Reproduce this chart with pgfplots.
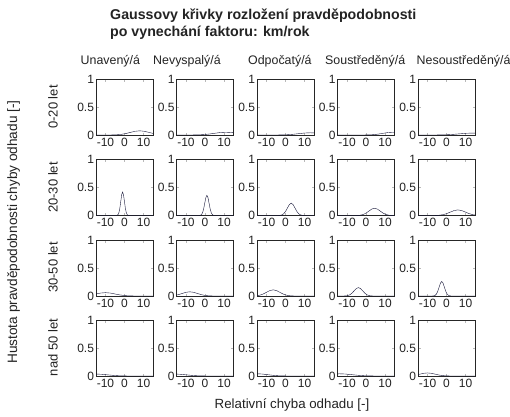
\documentclass[border=0pt]{standalone}
\usepackage{pgfplots}
\pgfplotsset{compat=1.18}
\usepackage{fontspec}
\setmainfont{Liberation Sans}
\definecolor{curvecol}{RGB}{20,20,55}
\definecolor{txt}{RGB}{35,35,35}
\pgfplotsset{
  cell/.style={
    width=57pt, height=56pt, scale only axis, anchor=north west,
    xmin=-15, xmax=15, ymin=0, ymax=1,
    xtick={-10,0,10}, ytick={0,0.5,1},
    tick align=inside, major tick length=2.5pt,
    tick style={gray!55, line width=0.5pt},
    axis line style={black!85, line width=0.8pt},
    /pgf/number format/assume math mode=true,
    tick label style={font=\fontsize{12}{12}\selectfont, text=txt},
    xticklabel style={yshift=0.5pt},
    yticklabel style={xshift=1.5pt},
    cycle list={{draw=curvecol, line width=1pt, mark=none}},
  }
}
\tikzset{coltitle/.style={anchor=base west, font=\fontsize{12.4}{12.4}\selectfont, text=txt, inner sep=0pt},
  rowtitle/.style={rotate=90, font=\fontsize{13}{13}\selectfont, text=txt, inner sep=0pt}}
\begin{document}
\begin{tikzpicture}
\useasboundingbox (0pt,0pt) rectangle (510pt,-416pt);
\fill[white] (0pt,0pt) rectangle (510pt,-416pt);
% titles
\node[anchor=base west, font=\bfseries\fontsize{14.2}{14.2}\selectfont, text=txt, inner sep=0pt] at (110pt,-19.5pt) {Gaussovy křivky rozložení pravděpodobnosti};
\node[anchor=base west, font=\bfseries\fontsize{14.2}{14.2}\selectfont, text=txt, inner sep=0pt] at (110pt,-36.5pt) {po vynechání faktoru: km/rok};
\node[coltitle] at (80.5pt,-64pt) {Unavený/á};
\node[coltitle] at (153pt,-64pt) {Nevyspalý/á};
\node[coltitle] at (248pt,-64pt) {Odpočatý/á};
\node[coltitle] at (325pt,-64pt) {Soustředěný/á};
\node[coltitle] at (416.5pt,-64pt) {Nesoustředěný/á};
\node[rowtitle] at (53pt,-107pt) {0-20 let};
\node[rowtitle] at (53pt,-187.5pt) {20-30 let};
\node[rowtitle] at (53pt,-267.5pt) {30-50 let};
\node[rowtitle] at (53pt,-347.5pt) {nad 50 let};
\node[rotate=90, font=\fontsize{13.6}{13.6}\selectfont, text=txt, inner sep=0pt] at (13.5pt,-232pt) {Hustota pravděpodobnosti chyby odhadu [-]};
\node[font=\fontsize{13.3}{13.3}\selectfont, text=txt, inner sep=0pt] at (292pt,-405pt) {Relativní chyba odhadu [-]};

% ---------------- row 1: 0-20 let ----------------
\begin{axis}[cell, at={(96pt,-79pt)}]
\addplot coordinates {(-15,0) (-12,0) (-9.5,0.0002) (-7,0.0008) (-4.5,0.0033) (-2,0.0101) (0.5,0.0244) (3,0.0455) (5.5,0.0662) (8,0.075) (10.5,0.0662) (13,0.0455) (15.5,0.0244)};
\end{axis}
\begin{axis}[cell, at={(176.5pt,-79pt)}]
\addplot coordinates {(-15,0) (-13,0) (-10,0.0001) (-7,0.0006) (-4,0.0022) (-1,0.0068) (2,0.0162) (5,0.0303) (8,0.0441) (11,0.05) (14,0.0441) (17,0.0303)};
\end{axis}
\begin{axis}[cell, at={(257pt,-79pt)}]
\addplot coordinates {(-15,0) (-11,0) (-8,0.0001) (-5,0.0004) (-2,0.0018) (1,0.0054) (4,0.013) (7,0.0243) (10,0.0353) (13,0.04) (16,0.0353)};
\end{axis}
\begin{axis}[cell, at={(337.5pt,-79pt)}]
\addplot coordinates {(-15,0) (-6,0) (-3.5,0.0001) (-1,0.0006) (1.5,0.0022) (4,0.0068) (6.5,0.0162) (9,0.0303) (11.5,0.0441) (14,0.05) (16.5,0.0441)};
\end{axis}
\begin{axis}[cell, at={(418pt,-79pt)}]
\addplot coordinates {(-15,0) (-14,0) (-10.5,0.0001) (-7,0.0004) (-3.5,0.0015) (0,0.0047) (3.5,0.0114) (7,0.0212) (10.5,0.0309) (14,0.035) (17.5,0.0309)};
\end{axis}

% ---------------- row 2: 20-30 let ----------------
\begin{axis}[cell, at={(96pt,-159.5pt)}]
\addplot coordinates {(-15,0) (-4.8,0.0001) (-4.325,0.0009) (-3.85,0.0047) (-3.375,0.0184) (-2.9,0.0568) (-2.425,0.1364) (-1.95,0.2547) (-1.475,0.3707) (-1,0.42) (-0.525,0.3707) (-0.05,0.2547) (0.425,0.1364) (0.9,0.0568) (1.375,0.0184) (1.85,0.0047) (2.325,0.0009) (2.8,0.0001) (15,0)};
\end{axis}
\begin{axis}[cell, at={(176.5pt,-159.5pt)}]
\addplot coordinates {(-15,0) (-3.6,0.0001) (-3.025,0.0008) (-2.45,0.004) (-1.875,0.0158) (-1.3,0.0487) (-0.725,0.1169) (-0.15,0.2183) (0.425,0.3177) (1,0.36) (1.575,0.3177) (2.15,0.2183) (2.725,0.1169) (3.3,0.0487) (3.875,0.0158) (4.45,0.004) (5.025,0.0008) (5.6,0.0001) (15,0)};
\end{axis}
\begin{axis}[cell, at={(257pt,-159.5pt)}]
\addplot coordinates {(-15,0) (-5,0.0001) (-4,0.0005) (-3,0.0024) (-2,0.0097) (-1,0.0298) (0,0.0714) (1,0.1334) (2,0.1942) (3,0.22) (4,0.1942) (5,0.1334) (6,0.0714) (7,0.0298) (8,0.0097) (9,0.0024) (10,0.0005) (11,0.0001) (15,0)};
\end{axis}
\begin{axis}[cell, at={(337.5pt,-159.5pt)}]
\addplot coordinates {(-15,0) (-7.5,0) (-6,0.0003) (-4.5,0.0014) (-3,0.0057) (-1.5,0.0176) (0,0.0422) (1.5,0.0788) (3,0.1147) (4.5,0.13) (6,0.1147) (7.5,0.0788) (9,0.0422) (10.5,0.0176) (12,0.0057) (13.5,0.0014) (15,0.0003)};
\end{axis}
\begin{axis}[cell, at={(418pt,-159.5pt)}]
\addplot coordinates {(-15,0) (-10,0) (-8,0.0002) (-6,0.0011) (-4,0.0044) (-2,0.0135) (0,0.0325) (2,0.0607) (4,0.0883) (6,0.1) (8,0.0883) (10,0.0607) (12,0.0325) (14,0.0135) (16,0.0044)};
\end{axis}

% ---------------- row 3: 30-50 let ----------------
\begin{axis}[cell, at={(96pt,-240pt)}]
\addplot coordinates {(-20,0.0081) (-17.5,0.0195) (-15,0.0364) (-12.5,0.053) (-10,0.06) (-7.5,0.053) (-5,0.0364) (-2.5,0.0195) (0,0.0081) (2.5,0.0026) (5,0.0007) (7.5,0.0001) (10,0) (15,0)};
\end{axis}
\begin{axis}[cell, at={(176.5pt,-240pt)}]
\addplot coordinates {(-20,0.0008) (-18,0.0033) (-16,0.0101) (-14,0.0244) (-12,0.0455) (-10,0.0662) (-8,0.075) (-6,0.0662) (-4,0.0455) (-2,0.0244) (0,0.0101) (2,0.0033) (4,0.0008) (6,0.0002) (8,0) (15,0)};
\end{axis}
\begin{axis}[cell, at={(257pt,-240pt)}]
\addplot coordinates {(-17,0.0012) (-15.25,0.0048) (-13.5,0.0149) (-11.75,0.0357) (-10,0.0667) (-8.25,0.0971) (-6.5,0.11) (-4.75,0.0971) (-3,0.0667) (-1.25,0.0357) (0.5,0.0149) (2.25,0.0048) (4,0.0012) (5.75,0.0002) (7.5,0) (15,0)};
\end{axis}
\begin{axis}[cell, at={(337.5pt,-240pt)}]
\addplot coordinates {(-15,0) (-13.2,0) (-12.05,0.0003) (-10.9,0.0017) (-9.75,0.0066) (-8.6,0.0203) (-7.45,0.0487) (-6.3,0.091) (-5.15,0.1324) (-4,0.15) (-2.85,0.1324) (-1.7,0.091) (-0.55,0.0487) (0.6,0.0203) (1.75,0.0066) (2.9,0.0017) (4.05,0.0003) (5.2,0) (15,0)};
\end{axis}
\begin{axis}[cell, at={(418pt,-240pt)}]
\addplot coordinates {(-15,0) (-8.1,0.0001) (-7.4,0.0006) (-6.7,0.0029) (-6,0.0114) (-5.3,0.0352) (-4.6,0.0844) (-3.9,0.1577) (-3.2,0.2295) (-2.5,0.26) (-1.8,0.2295) (-1.1,0.1577) (-0.4,0.0844) (0.3,0.0352) (1,0.0114) (1.7,0.0029) (2.4,0.0006) (3.1,0.0001) (15,0)};
\end{axis}

% ---------------- row 4: nad 50 let ----------------
\begin{axis}[cell, at={(96pt,-320pt)}]
\addplot coordinates {(-15,0.035) (-12,0.0309) (-9,0.0212) (-6,0.0114) (-3,0.0047) (0,0.0015) (3,0.0004) (6,0.0001) (9,0) (15,0)};
\end{axis}
\begin{axis}[cell, at={(176.5pt,-320pt)}]
\addplot coordinates {(-16,0.035) (-13,0.0309) (-10,0.0212) (-7,0.0114) (-4,0.0047) (-1,0.0015) (2,0.0004) (5,0.0001) (8,0) (15,0)};
\end{axis}
\begin{axis}[cell, at={(257pt,-320pt)}]
\addplot coordinates {(-15,0.04) (-12.25,0.0353) (-9.5,0.0243) (-6.75,0.013) (-4,0.0054) (-1.25,0.0018) (1.5,0.0004) (4.25,0.0001) (7,0) (15,0)};
\end{axis}
\begin{axis}[cell, at={(337.5pt,-320pt)}]
\addplot coordinates {(-17.25,0.0353) (-14,0.04) (-10.75,0.0353) (-7.5,0.0243) (-4.25,0.013) (-1,0.0054) (2.25,0.0018) (5.5,0.0004) (8.75,0.0001) (15,0)};
\end{axis}
\begin{axis}[cell, at={(418pt,-320pt)}]
\addplot coordinates {(-18,0.0074) (-16,0.0179) (-14,0.0334) (-12,0.0485) (-10,0.055) (-8,0.0485) (-6,0.0334) (-4,0.0179) (-2,0.0074) (0,0.0024) (2,0.0006) (4,0.0001) (6,0) (15,0)};
\end{axis}
\end{tikzpicture}
\end{document}
